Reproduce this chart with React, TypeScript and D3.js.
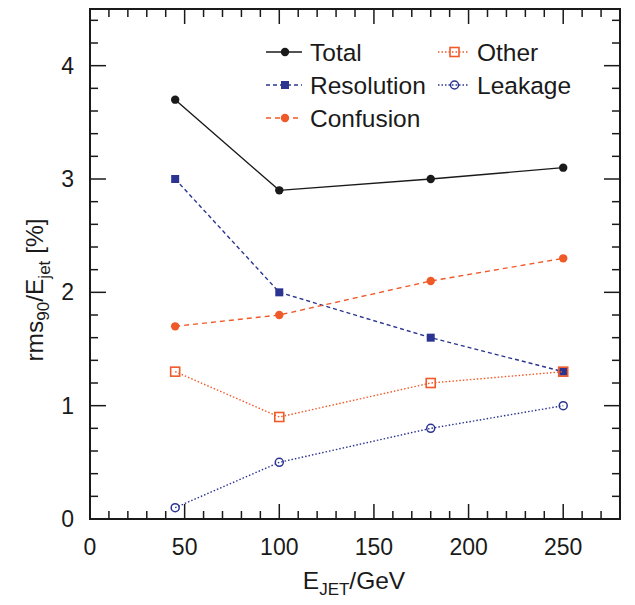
import React from 'react';
import * as d3 from 'd3';

// jet energies (GeV)
const energies = [45, 100, 180, 250];
// rms90/Ejet contributions [%]
const total = [3.7, 2.9, 3.0, 3.1];
const resolution = [3.0, 2.0, 1.6, 1.3];
const confusion = [1.7, 1.8, 2.1, 2.3];
const other = [1.3, 0.9, 1.2, 1.3];
const leakage = [0.1, 0.5, 0.8, 1.0];

const xTicks = [0, 50, 100, 150, 200, 250];
const yTicks = [0, 1, 2, 3, 4];

const BLACK = '#1a1a1a';
const BLUE = '#2b3590';
const ORANGE = '#f05a28';
const FONT = '"Liberation Sans", Arial, Helvetica, sans-serif';

const series = [
  { name: 'Total', values: total, color: BLACK, dash: null, marker: 'dot', col: 0, row: 0 },
  { name: 'Resolution', values: resolution, color: BLUE, dash: '4,3', marker: 'fsquare', col: 0, row: 1 },
  { name: 'Confusion', values: confusion, color: ORANGE, dash: '5,4', marker: 'dot', col: 0, row: 2 },
  { name: 'Other', values: other, color: ORANGE, dash: '1.5,2', marker: 'osquare', col: 1, row: 0 },
  { name: 'Leakage', values: leakage, color: BLUE, dash: '1.5,2', marker: 'ocircle', col: 1, row: 1 },
];

function Marker({ type, x, y, color }) {
  if (type === 'dot') return <circle cx={x} cy={y} r={4.2} fill={color} />;
  if (type === 'fsquare') return <rect x={x - 4} y={y - 4} width={8} height={8} fill={color} />;
  if (type === 'osquare')
    return <rect x={x - 4.5} y={y - 4.5} width={9} height={9} fill="none" stroke={color} strokeWidth={1.6} />;
  return <circle cx={x} cy={y} r={4} fill="none" stroke={color} strokeWidth={1.5} />;
}

export default function App() {
  const width = 635, height = 605;
  const m = { left: 90, right: 15, top: 9, bottom: 86 };
  const x = d3.scaleLinear().domain([0, 280]).range([m.left, width - m.right]);
  const y = d3.scaleLinear().domain([0, 4.5]).range([height - m.bottom, m.top]);
  const [x0, x1] = x.range();
  const [y0, y1] = y.range();

  const line = d3.line<number>()
    .x((d, i) => x(energies[i]))
    .y(d => y(d));

  const xMinor = d3.range(0, 281, 10);
  const yMinor = d3.range(0, 4.51, 0.2);

  return (
    <svg width={width} height={height} style={{ position: 'absolute', left: 0, top: 0 }} fontFamily={FONT}>
      <rect width={width} height={height} fill="#fff" />
      {/* ticks, pointing inward on all four sides */}
      <g stroke={BLACK} strokeWidth={1.5}>
        {xMinor.map(v => {
          const len = v % 50 === 0 ? 15 : 8;
          return (
            <g key={'xt' + v}>
              <line x1={x(v)} x2={x(v)} y1={y0} y2={y0 - len} />
              <line x1={x(v)} x2={x(v)} y1={y1} y2={y1 + len} />
            </g>
          );
        })}
        {yMinor.map(v => {
          const major = Math.abs(v - Math.round(v)) < 1e-6;
          const len = major ? 16 : 8;
          return (
            <g key={'yt' + v.toFixed(1)}>
              <line x1={x0} x2={x0 + len} y1={y(v)} y2={y(v)} />
              <line x1={x1} x2={x1 - len} y1={y(v)} y2={y(v)} />
            </g>
          );
        })}
      </g>
      <rect x={x0} y={y1} width={x1 - x0} height={y0 - y1} fill="none" stroke={BLACK} strokeWidth={2} />

      {xTicks.map(v => (
        <text key={'xl' + v} x={x(v)} y={y0 + 36} textAnchor="middle" fontSize={23} fill={BLACK}>{v}</text>
      ))}
      {yTicks.map(v => (
        <text key={'yl' + v} x={x0 - 16} y={y(v) + 8} textAnchor="end" fontSize={23} fill={BLACK}>{v}</text>
      ))}

      {/* axis titles */}
      <text x={354} y={589} textAnchor="middle" fontSize={24.5} fill={BLACK}>
        E<tspan fontSize={17} dy={6}>JET</tspan><tspan dy={-6}>/GeV</tspan>
      </text>
      <text transform="translate(43,290) rotate(-90)" textAnchor="middle" fontSize={24.5} fill={BLACK}>
        rms<tspan fontSize={17} dy={6}>90</tspan><tspan dy={-6}>/E</tspan>
        <tspan fontSize={17} dy={7}>jet</tspan><tspan dy={-7}> [%]</tspan>
      </text>

      {/* data */}
      {series.map(s => (
        <g key={s.name}>
          <path d={line(s.values) || ''} fill="none" stroke={s.color} strokeWidth={1.4}
            strokeDasharray={s.dash || undefined} />
          {s.values.map((v, i) => (
            <Marker key={i} type={s.marker} x={x(energies[i])} y={y(v)} color={s.color} />
          ))}
        </g>
      ))}

      {/* legend */}
      {series.map(s => {
        const lx = s.col === 0 ? 266 : 438;
        const lw = s.col === 0 ? 36 : 31;
        const ly = 52 + s.row * 33;
        return (
          <g key={'lg' + s.name}>
            <line x1={lx} x2={lx + lw} y1={ly} y2={ly} stroke={s.color} strokeWidth={1.4}
              strokeDasharray={s.dash || undefined} />
            <Marker type={s.marker} x={lx + lw / 2 + 1} y={ly} color={s.color} />
            <text x={lx + lw + 8} y={ly + 9} fontSize={24.5} fill={BLACK}>{s.name}</text>
          </g>
        );
      })}
    </svg>
  );
}
